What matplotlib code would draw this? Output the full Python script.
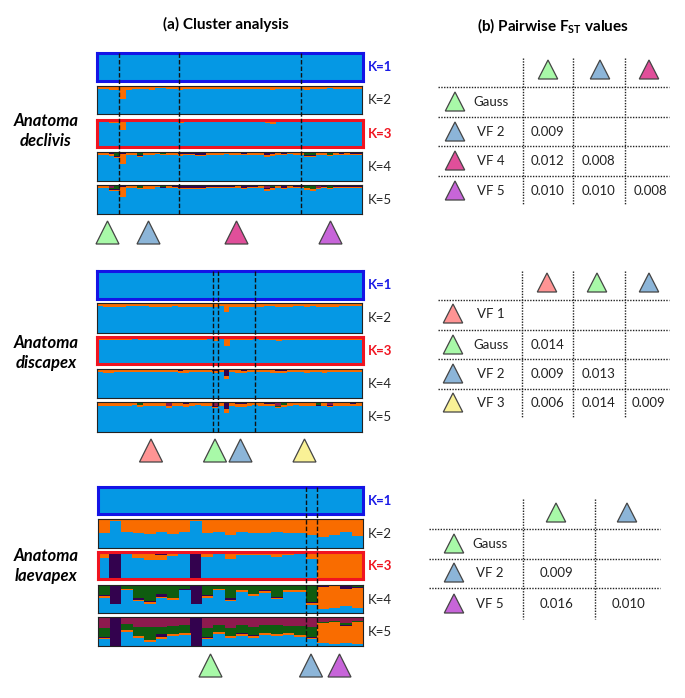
#!/usr/bin/env python
"""Cluster analysis bars and pairwise FST tables for three Anatoma species."""

import numpy as np
import matplotlib
matplotlib.use("Agg")
import matplotlib.pyplot as plt
from matplotlib.patches import Polygon

plt.rcParams['font.family'] = ['Lato', 'DejaVu Sans']
plt.rcParams['mathtext.fontset'] = 'custom'
plt.rcParams['mathtext.rm'] = 'Lato:bold'

# ---- ancestry fractions, top layer first; blue is what is left over ----
# Anatoma declivis (46 individuals)
dec_k2_orange = [.12,.13,.14,.14,.45,.15,.12,.12,.13,.15,.08,.09,.12,.13,.15,.11,.12,.11,.11,.10,.12,.12,.11,
                 .13,.12,.11,.10,.13,.12,.12,.16,.12,.12,.11,.13,.12,.15,.13,.11,.10,.09,.12,.12,.11,.12,.12]
dec_k3_purple = [.02,.02,.03,.05,.04,.02,.01,.01,.01,.01,.01,.01,.01,.02,.03,.03,.02,.01,.03,.02,.01,.01,.03,
                 .01,.01,.02,.02,.03,.02,.05,.05,.01,.02,.02,.01,.01,.01,.02,.01,.03,.01,.02,.02,.02,.03,.02]
dec_k3_orange = [.07,.07,.08,.06,.34,.06,.05,.05,.06,.08,.03,.03,.07,.07,.08,.05,.06,.06,.05,.06,.06,.06,.05,
                 .07,.06,.05,.05,.07,.06,.07,.09,.07,.06,.05,.07,.06,.09,.07,.05,.05,.05,.06,.07,.05,.06,.05]
dec_k4_green = [.01,.02,.03,.12,.03,.01,.02,.10,.01,.01,.02,.05,.01,.01,.02,.01,.01,.01,.01,.02,.01,.01,.01,
                .01,.01,.01,.01,.02,.01,.02,.01,.01,.01,.01,.01,.02,.10,.10,.01,.01,.08,.01,.01,.01,.01,.02]
dec_k4_purple = [.02,.02,.03,.04,.04,.02,.02,.02,.01,.01,.01,.01,.01,.03,.04,.06,.05,.08,.08,.02,.02,.03,.02,
                 .03,.02,.05,.03,.02,.02,.08,.05,.02,.06,.02,.03,.02,.02,.02,.02,.03,.02,.03,.04,.03,.04,.03]
dec_k4_orange = [.06,.05,.06,.04,.35,.05,.05,.04,.06,.07,.03,.03,.06,.05,.07,.03,.04,.03,.03,.05,.05,.05,.04,
                 .05,.05,.04,.04,.05,.05,.05,.08,.05,.04,.04,.05,.05,.04,.05,.05,.04,.03,.05,.05,.04,.04,.04]
dec_k5_maroon = [.01,.01,.10,.02,.01,.01,.02,.01,.02,.01,.01,.01,.02,.02,.02,.02,.01,.03,.02,.01,.02,.01,.02,
                 .01,.01,.02,.01,.01,.01,.08,.04,.01,.01,.01,.01,.01,.01,.02,.08,.02,.01,.01,.01,.01,.01,.02]
dec_k5_green = [.01,.01,.02,.10,.02,.01,.01,.08,.01,.01,.01,.06,.01,.01,.02,.01,.01,.01,.01,.02,.01,.01,.01,
                .01,.01,.01,.01,.02,.01,.01,.01,.01,.01,.01,.01,.02,.08,.10,.01,.01,.07,.01,.01,.01,.01,.02]
dec_k5_purple = [.02,.02,.03,.03,.03,.02,.01,.01,.01,.01,.01,.01,.01,.03,.04,.06,.06,.06,.06,.02,.03,.04,.02,
                 .03,.02,.05,.03,.02,.02,.05,.05,.02,.06,.02,.03,.02,.02,.02,.02,.03,.02,.03,.04,.03,.04,.03]
dec_k5_orange = [.06,.07,.06,.03,.33,.06,.05,.04,.08,.10,.03,.03,.06,.05,.06,.03,.04,.03,.03,.05,.05,.05,.04,
                 .05,.06,.04,.04,.05,.05,.04,.06,.05,.04,.04,.05,.05,.04,.04,.03,.04,.03,.05,.05,.04,.04,.04]

# Anatoma discapex (46 individuals)
dis_k2_orange = [.11,.12,.13,.13,.12,.11,.11,.10,.11,.13,.13,.12,.12,.11,.13,.13,.12,.12,.13,.12,.12,.11,.30,
                 .12,.12,.13,.13,.12,.12,.11,.11,.13,.13,.12,.11,.11,.12,.11,.13,.13,.12,.12,.11,.11,.11,.11]
dis_k3_purple = [.01,.01,.01,.01,.01,.01,.01,.01,.01,.01,.01,.01,.05,.01,.01,.01,.01,.01,.01,.01,.08,.01,.05,
                 .01,.01,.01,.01,.01,.01,.01,.01,.06,.01,.01,.01,.01,.01,.01,.01,.01,.05,.01,.01,.01,.01,.01]
dis_k3_orange = [.10,.11,.11,.10,.10,.09,.08,.09,.10,.10,.11,.10,.07,.09,.11,.12,.10,.09,.09,.08,.06,.08,.28,
                 .09,.12,.12,.09,.08,.09,.09,.11,.11,.11,.10,.09,.09,.11,.11,.09,.12,.07,.10,.09,.09,.09,.09]
dis_k4_green = [.03,.03,.03,.03,.03,.02,.03,.03,.02,.02,.03,.03,.03,.03,.03,.03,.03,.02,.02,.03,.03,.03,.04,
                .02,.02,.03,.03,.03,.03,.03,.03,.05,.05,.03,.03,.03,.03,.03,.03,.03,.03,.03,.03,.04,.03,.03]
dis_k4_purple = [.02,.02,.02,.01,.01,.02,.02,.01,.02,.01,.01,.02,.02,.02,.03,.02,.02,.01,.01,.01,.03,.02,.20,
                 .02,.02,.03,.02,.02,.01,.01,.02,.01,.01,.01,.02,.02,.02,.01,.01,.01,.02,.02,.02,.01,.02,.02]
dis_k4_orange = [.07,.08,.08,.08,.07,.07,.06,.07,.08,.07,.08,.07,.07,.06,.08,.09,.07,.07,.08,.07,.07,.06,.10,
                 .07,.09,.09,.07,.06,.07,.07,.08,.08,.08,.07,.07,.07,.09,.08,.07,.09,.07,.07,.07,.06,.07,.06]
dis_k5_maroon = [.01,.01,.01,.01,.01,.01,.01,.01,.01,.01,.01,.01,.12,.01,.01,.01,.01,.01,.01,.01,.14,.01,.02,
                 .01,.01,.01,.01,.01,.01,.01,.01,.15,.01,.01,.01,.01,.01,.01,.01,.01,.10,.01,.01,.01,.01,.01]
dis_k5_green = [.01,.01,.01,.01,.01,.01,.01,.09,.01,.01,.01,.01,.01,.01,.01,.01,.01,.01,.01,.01,.01,.01,.02,
                .01,.01,.01,.01,.01,.01,.03,.02,.01,.09,.01,.01,.01,.01,.01,.10,.01,.01,.01,.01,.01,.02,.01]
dis_k5_purple = [.03,.03,.03,.03,.03,.03,.02,.01,.03,.03,.03,.03,.02,.03,.03,.04,.03,.02,.02,.03,.02,.03,.20,
                 .02,.05,.05,.03,.02,.03,.03,.03,.01,.01,.03,.02,.03,.03,.03,.01,.03,.02,.03,.03,.03,.03,.03]
dis_k5_orange = [.08,.09,.09,.08,.08,.07,.07,.05,.08,.08,.09,.08,.04,.08,.09,.10,.08,.07,.08,.07,.04,.07,.12,
                 .08,.09,.09,.07,.07,.08,.07,.08,.04,.05,.07,.07,.07,.09,.08,.03,.09,.04,.07,.07,.07,.07,.07]

# Anatoma laevapex (23 individuals)
lae_k2_orange = [.49,.07,.46,.49,.53,.45,.53,.44,.07,.49,.44,.55,.44,.47,.47,.46,.48,.49,.55,.63,.55,.46,.59]
lae_k3_purple = [.00,1.0,.00,.01,.03,.09,.00,.00,1.0,.00,.00,.00,.00,.00,.00,.00,.00,.00,.00,.00,.00,.06,.00]
lae_k3_orange = [.21,.00,.05,.19,.27,.19,.15,.07,.00,.19,.08,.24,.10,.12,.10,.16,.09,.08,.25,.98,.98,.90,.98]
lae_k4_green = [.35,.00,.14,.48,.57,.34,.45,.16,.00,.37,.14,.48,.18,.32,.20,.42,.18,.18,.60,.05,.03,.06,.07]
lae_k4_purple = [.04,.66,.01,.05,.05,.10,.03,.03,.66,.03,.02,.04,.02,.02,.03,.03,.02,.02,.04,.04,.02,.08,.03]
lae_k4_orange = [.07,.00,.05,.05,.06,.02,.06,.01,.00,.06,.03,.05,.05,.04,.07,.06,.04,.04,.07,.75,.77,.61,.72]
lae_k5_maroon = [.36,.00,.24,.33,.33,.33,.31,.27,.00,.36,.28,.36,.26,.32,.25,.26,.30,.30,.34,.15,.12,.20,.13]
lae_k5_green = [.33,.00,.20,.31,.44,.24,.28,.26,.00,.33,.24,.30,.28,.30,.28,.31,.23,.31,.35,.03,.03,.05,.03]
lae_k5_purple = [.01,1.0,.00,.00,.00,.12,.00,.00,1.0,.01,.00,.00,.02,.01,.00,.00,.00,.00,.01,.00,.00,.06,.00]
lae_k5_orange = [.05,.00,.08,.08,.07,.06,.06,.07,.00,.05,.07,.06,.07,.08,.09,.08,.08,.06,.06,.72,.77,.59,.76]

# population boundaries, counted in individuals from the left
dec_breaks = [3.75, 14.3, 35.5]
dis_breaks = [20.2, 21.1, 27.5]
lae_breaks = [18.0, 19.0]

# ---- pairwise FST tables ----
dec_rows = ['Gauss', 'VF 2', 'VF 4', 'VF 5']
dec_fst = [['', '', ''], ['0.009', '', ''], ['0.012', '0.008', ''], ['0.010', '0.010', '0.008']]
dis_rows = ['VF 1', 'Gauss', 'VF 2', 'VF 3']
dis_fst = [['', '', ''], ['0.014', '', ''], ['0.009', '0.013', ''], ['0.006', '0.014', '0.009']]
lae_rows = ['Gauss', 'VF 2', 'VF 5']
lae_fst = [['', ''], ['0.009', ''], ['0.016', '0.010']]

k_labels = ['K=1', 'K=2', 'K=3', 'K=4', 'K=5']

# ---- styles ----
C_BLUE, C_ORANGE, C_PURPLE, C_GREEN, C_MAROON = '#0598e4', '#f96c00', '#33024e', '#0f5c10', '#8e1a4e'
TRI = {'Gauss': '#a8f9a8', 'VF 1': '#ff9494', 'VF 2': '#8cb5d8', 'VF 3': '#f9f196',
       'VF 4': '#e04f9a', 'VF 5': '#c765d9'}
W, H = 685, 698

fig = plt.figure(figsize=(W / 100, H / 100), dpi=100)


def px_axes(x0, y0, x1, y1, **kw):
    return fig.add_axes([x0 / W, 1 - y1 / H, (x1 - x0) / W, (y1 - y0) / H], **kw)


def draw_panel(box, layers, edge='#222222', lw=0.8):
    """One STRUCTURE style strip. layers run from the top of the strip down."""
    ax = px_axes(*box)
    n = len(layers[0][0])
    x = np.arange(n)
    top = np.ones(n)
    for vals, col in layers:
        vals = np.array(vals)
        ax.bar(x, vals, width=1.02, bottom=top - vals, align='edge', color=col, linewidth=0)
        top = top - vals
    ax.bar(x, top, width=1.02, align='edge', color=C_BLUE, linewidth=0)
    ax.set_xlim(0, n)
    ax.set_ylim(0, 1)
    ax.set_xticks([])
    ax.set_yticks([])
    for s in ax.spines.values():
        s.set_edgecolor(edge)
        s.set_linewidth(lw)
    return ax


def draw_group(boxes, layer_sets, breaks):
    for i, (box, layers) in enumerate(zip(boxes, layer_sets)):
        if i == 0:
            ax = draw_panel(box, layers, edge='#1414e6', lw=2.2)
        elif i == 2:
            ax = draw_panel(box, layers, edge='#f01420', lw=2.2)
        else:
            ax = draw_panel(box, layers)
        ax.set_zorder(2 if i in (0, 2) else 1)
    # dashes run through all five strips, so they sit on the overlay
    first, last = boxes[1], boxes[4]
    n = len(layer_sets[1][0][0])
    for b in breaks:
        xp = first[0] + b / n * (first[2] - first[0])
        over.plot([xp, xp], [boxes[0][1], last[3]], color='#111111', lw=1.0,
                  linestyle=(0, (3.2, 1.5)))


def triangle(cx, base_y, col, half=11.5, height=23):
    over.add_patch(Polygon([(cx - half, base_y), (cx + half, base_y), (cx, base_y - height)],
                           closed=True, facecolor=col, edgecolor='#444444', lw=0.9))


def dotted(x0, y0, x1, y1):
    over.plot([x0, x1], [y0, y1], color='#222222', lw=1.0, linestyle=(0, (1, 1)))


over = px_axes(0, 0, W, H)
over.set_xlim(0, W)
over.set_ylim(H, 0)
over.axis('off')
over.set_zorder(5)
over.patch.set_alpha(0)

# ---- strips ----
dec_boxes = [(97.2, 53.2, 362.5, 80.5), (97, 85.7, 361.7, 114.3), (97.2, 119.8, 362.5, 146.8),
             (97, 152.3, 361.7, 181), (97, 185.3, 361.7, 214.3)]
dis_boxes = [(97.2, 270.8, 362.5, 298.8), (97, 303, 361.7, 332.7), (97.2, 336.8, 362.5, 363.8),
             (97, 369, 361.7, 398), (97, 402, 361.7, 431.7)]
lae_boxes = [(97.5, 487.2, 363.2, 513.8), (98, 519, 363.3, 548), (97.5, 552.2, 363.2, 579.2),
             (98, 584.7, 363.3, 613.3), (98, 617.3, 363.3, 646.3)]

draw_group(dec_boxes, [
    [(np.zeros(46), C_ORANGE)],
    [(dec_k2_orange, C_ORANGE)],
    [(dec_k3_purple, C_PURPLE), (dec_k3_orange, C_ORANGE)],
    [(dec_k4_green, C_GREEN), (dec_k4_purple, C_PURPLE), (dec_k4_orange, C_ORANGE)],
    [(dec_k5_maroon, C_MAROON), (dec_k5_green, C_GREEN), (dec_k5_purple, C_PURPLE), (dec_k5_orange, C_ORANGE)],
], dec_breaks)
draw_group(dis_boxes, [
    [(np.zeros(46), C_ORANGE)],
    [(dis_k2_orange, C_ORANGE)],
    [(dis_k3_purple, C_PURPLE), (dis_k3_orange, C_ORANGE)],
    [(dis_k4_green, C_GREEN), (dis_k4_purple, C_PURPLE), (dis_k4_orange, C_ORANGE)],
    [(dis_k5_maroon, C_MAROON), (dis_k5_green, C_GREEN), (dis_k5_purple, C_PURPLE), (dis_k5_orange, C_ORANGE)],
], dis_breaks)
draw_group(lae_boxes, [
    [(np.zeros(23), C_ORANGE)],
    [(lae_k2_orange, C_ORANGE)],
    [(lae_k3_purple, C_PURPLE), (lae_k3_orange, C_ORANGE)],
    [(lae_k4_green, C_GREEN), (lae_k4_purple, C_PURPLE), (lae_k4_orange, C_ORANGE)],
    [(lae_k5_maroon, C_MAROON), (lae_k5_green, C_GREEN), (lae_k5_purple, C_PURPLE), (lae_k5_orange, C_ORANGE)],
], lae_breaks)

# K labels next to each strip
for boxes in (dec_boxes, dis_boxes, lae_boxes):
    for i, (box, lab) in enumerate(zip(boxes, k_labels)):
        col, weight = '#262626', 'normal'
        if i == 0:
            col, weight = '#1a1ae6', 'bold'
        if i == 2:
            col, weight = '#f01420', 'bold'
        over.text(380, (box[1] + box[3]) / 2 + 0.5, lab, color=col, fontweight=weight,
                  fontsize=9.5, ha='center', va='center')

# population triangles below the strips
for cx, name in zip([107.5, 148.5, 236.5, 330.5], ['Gauss', 'VF 2', 'VF 4', 'VF 5']):
    triangle(cx, 244, TRI[name])
for cx, name in zip([151, 215, 240.5, 304.5], ['VF 1', 'Gauss', 'VF 2', 'VF 3']):
    triangle(cx, 462, TRI[name])
for cx, name in zip([210.5, 311, 339.5], ['Gauss', 'VF 2', 'VF 5']):
    triangle(cx, 677, TRI[name])

# species names
for txt, cy in [('Anatoma\ndeclivis', 131), ('Anatoma\ndiscapex', 353), ('Anatoma\nlaevapex', 566)]:
    over.text(46, cy, txt, fontsize=12, fontweight='bold', fontstyle='italic', ha='center',
              va='center', linespacing=1.3, color='black')

# titles
over.text(226, 24, '(a) Cluster analysis', fontsize=11, fontweight='bold', ha='center', va='center')
over.text(553, 26, r'(b) Pairwise F$_{\mathrm{ST}}$ values', fontsize=11, fontweight='bold',
          ha='center', va='center')


def draw_table(vx, hy, xspan, ytop, ybot, head_x, head_base, row_x, row_base, label_x, val_x, rows, head, fst):
    for x in vx:
        dotted(x, ytop, x, ybot)
    for y in hy:
        dotted(xspan[0], y, xspan[1], y)
    for cx, name in zip(head_x, head):
        triangle(cx, head_base, TRI[name], half=9.7, height=19)
    for i, name in enumerate(rows):
        triangle(row_x, row_base[i], TRI[name], half=9.7, height=19)
        cy = row_base[i] - 9
        over.text(label_x, cy, name, fontsize=9.5, ha='center', va='center', color='#222222')
        for j, val in enumerate(fst[i]):
            if val:
                over.text(val_x[j], cy, val, fontsize=9.5, ha='center', va='center', color='#222222')


draw_table([523, 573, 625], [87, 117, 146, 176], (438, 669), 58, 205,
           [548, 600, 649], 79, 455, [111, 141, 170, 200], 491, [548, 598.5, 650.5],
           dec_rows, ['Gauss', 'VF 2', 'VF 4'], dec_fst)
draw_table([522, 573, 625], [300, 330, 359, 389], (438, 669), 271, 417,
           [547, 597, 649], 292, 453, [323, 354, 383, 412], 491, [548, 598.5, 648.5],
           dis_rows, ['VF 1', 'Gauss', 'VF 2'], dis_fst)
draw_table([523, 595], [529, 559, 588], (429, 660), 499, 619,
           [556, 627], 522, 454, [553, 582, 613], 490, [557, 629],
           lae_rows, ['Gauss', 'VF 2'], lae_fst)

fig.savefig('out.png', dpi=100)
plt.close(fig)
